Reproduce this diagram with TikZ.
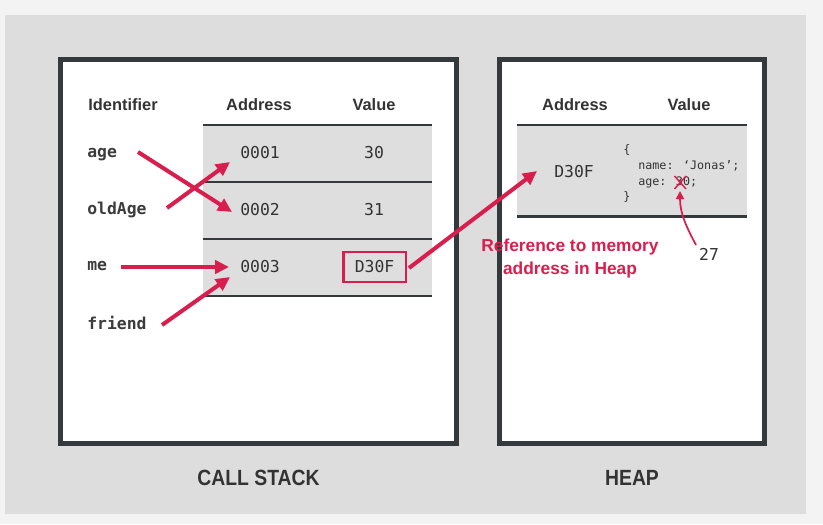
\documentclass[tikz,border=0pt]{standalone}
\usepackage{fontspec}
\setmainfont{Liberation Sans}
\newfontfamily\monofont{DejaVu Sans Mono}
\newfontfamily\condfont[FakeStretch=0.88]{Liberation Sans}
\usetikzlibrary{arrows.meta}
\definecolor{pagebg}{HTML}{F3F3F3}
\definecolor{panelbg}{HTML}{DDDDDD}
\definecolor{rowbg}{HTML}{DEDEDE}
\definecolor{boxline}{HTML}{343A3C}
\definecolor{txt}{HTML}{333333}
\definecolor{identtxt}{HTML}{3C3C3C}
\definecolor{accent}{HTML}{D91E4E}
\tikzset{
  header/.style={font=\bfseries\fontsize{12.3}{14}\selectfont, text=txt, inner sep=0pt},
  ident/.style={font=\monofont\bfseries\fontsize{12.3}{14}\selectfont, text=identtxt, inner sep=0pt, anchor=base west},
  cell/.style={font=\monofont\fontsize{12.3}{14}\selectfont, text=txt, inner sep=0pt},
  code/.style={font=\monofont\fontsize{8.8}{10}\selectfont, text=txt, inner sep=0pt, anchor=west},
  title/.style={font=\condfont\bfseries\fontsize{16.5}{18}\selectfont, text=txt, inner sep=0pt},
  area/.style={draw=boxline, line width=3.75pt, fill=white},
  rowline/.style={draw=boxline, line width=1.6pt},
  ptr/.style={draw=accent, line width=3pt, -{Triangle[length=10.5pt,width=10pt]}},
  thinptr/.style={draw=accent, line width=1.3pt, -{Triangle[length=6pt,width=6pt]}},
  redlabel/.style={font=\bfseries\fontsize{13}{17.3}\selectfont, text=accent, align=center, inner sep=0pt}
}
\begin{document}
\begin{tikzpicture}[x=0.75pt,y=-0.75pt]
\useasboundingbox (0,0) rectangle (823,524);
\fill[pagebg] (0,0) rectangle (823,524);
\fill[panelbg] (5,15) rectangle (806,514);
% boxes
\draw[area] (60.2,59.8) rectangle (456.8,443.5);
\draw[area] (499.1,59.8) rectangle (764.5,443.5);
% stack table
\fill[rowbg] (203,125) rectangle (432,296);
\foreach \yy in {125,182,239,296} \draw[rowline] (203,\yy) -- (432,\yy);
% heap table
\fill[rowbg] (517,125) rectangle (747,216.5);
\foreach \yy in {125,216.5} \draw[rowline] (517,\yy) -- (747,\yy);
% headers
\node[header] (hId) at (123,105) {Identifier};
\node[header] (hAddr) at (259,105) {Address};
\node[header] (hVal) at (374,105) {Value};
\node[header] (hhAddr) at (575,105) {Address};
\node[header] (hhVal) at (689,105) {Value};
% identifiers
\node[ident] (nage) at (87,157) {age};
\node[ident] (nold) at (87,214) {oldAge};
\node[ident] (nme) at (87,270) {me};
\node[ident] (nfriend) at (87,329) {friend};
% cells
\node[cell] (a1) at (260,153) {0001};
\node[cell] (a2) at (260,210) {0002};
\node[cell] (a3) at (260,267) {0003};
\node[cell] (v1) at (374,153) {30};
\node[cell] (v2) at (374,210) {31};
\node[cell, draw=accent, line width=2pt, minimum width=47pt, minimum height=22.5pt] (v3) at (374.5,267) {D30F};
% heap content
\node[cell] (hA) at (574,172) {D30F};
\node[code] (cOpen) at (623,150) {\{};
\node[code] (cName) at (638,166) {name: ‘Jonas’;};
\node[code] (cAge) at (638,182) {age: 30;};
\node[code] (cClose) at (623,197) {\}};
\draw[accent, line width=1.1pt] (674.5,176) -- (686,189) (686,176) -- (674.5,189);
\node[cell] (n27) at (709,254) {27};
% arrows
\coordinate (sAge) at (138,152);
\coordinate (tAge) at (232,212);
\coordinate (sOld) at (167,208);
\coordinate (tOld) at (230,162);
\coordinate (sMe) at (121,267);
\coordinate (tMe) at (229,267);
\coordinate (sFr) at (162,325);
\coordinate (tFr) at (230,277);
\coordinate (sRef) at (409,268);
\coordinate (tRef) at (537,171);
\coordinate (s27) at (696,245);
\coordinate (t27) at (680,191);
\draw[ptr] (sAge) -- (tAge);
\draw[ptr] (sOld) -- (tOld);
\draw[ptr] (sMe) -- (tMe);
\draw[ptr] (sFr) -- (tFr);
\draw[ptr] (sRef) -- (tRef);
\draw[thinptr] (s27) to[out=118,in=-90] (t27);
% label
\node[redlabel] (lbl) at (570,258.5) {Reference to memory\\address in Heap};
% titles
\node[title] (tStack) at (258.5,478) {CALL STACK};
\node[title] (tHeap) at (632,478) {HEAP};
\end{tikzpicture}
\end{document}
